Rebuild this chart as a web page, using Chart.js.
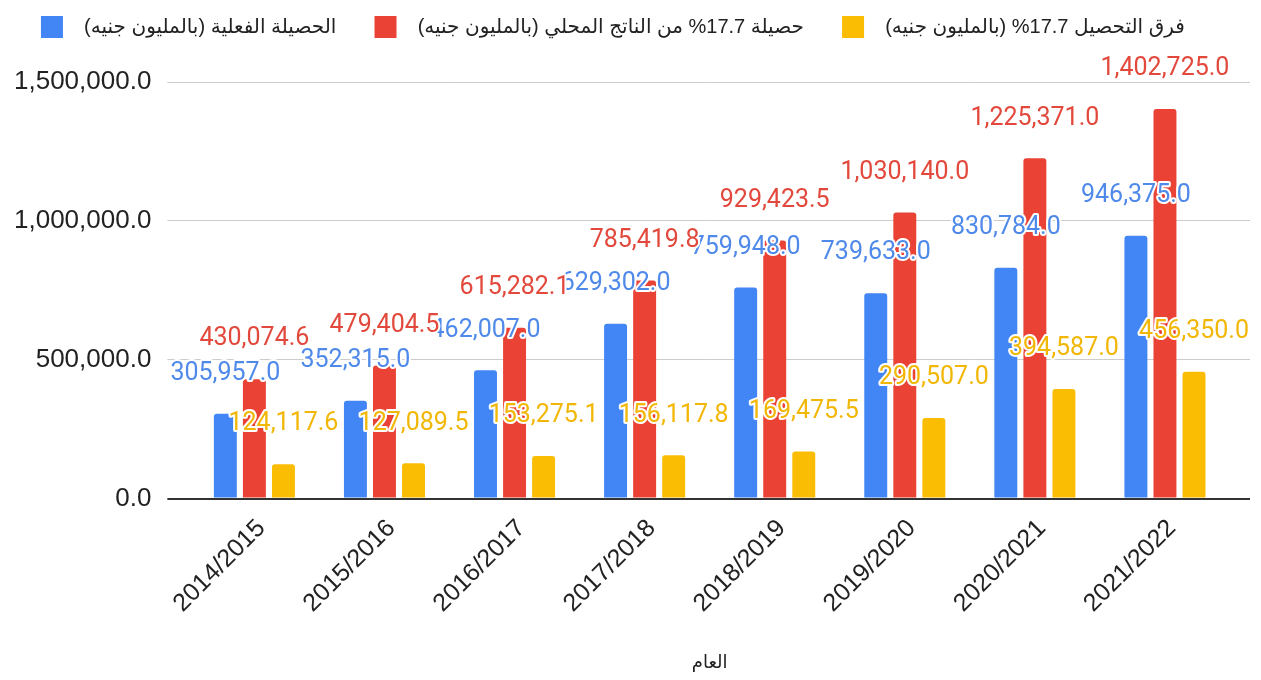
<!DOCTYPE html>
<html>
<head>
<meta charset="utf-8">
<script src="https://cdn.jsdelivr.net/npm/chart.js@4.4.1/dist/chart.umd.min.js"></script>
<style>
  body { margin: 0; background: #fff; }
  #wrap { width: 1261px; height: 680px; }
</style>
</head>
<body>
<div id="wrap"><canvas id="chart"></canvas></div>
<script>
const years = ['2014/2015', '2015/2016', '2016/2017', '2017/2018', '2018/2019', '2019/2020', '2020/2021', '2021/2022'];
const actual = [305957.0, 352315.0, 462007.0, 629302.0, 759948.0, 739633.0, 830784.0, 946375.0];
const gdpShare = [430074.6, 479404.5, 615282.1, 785419.8, 929423.5, 1030140.0, 1225371.0, 1402725.0];
const gap = [124117.6, 127089.5, 153275.1, 156117.8, 169475.5, 290507.0, 394587.0, 456350.0];
const seriesNames = [
    'الحصيلة الفعلية (بالمليون جنيه)',
    'حصيلة 17.7% من الناتج المحلي (بالمليون جنيه)',
    'فرق التحصيل 17.7% (بالمليون جنيه)'
];
const yTicks = [0, 500000, 1000000, 1500000];

const barColors = ['#4285F4', '#EA4335', '#FBBC04'];
const labelColors = ['#4f89e9', '#e2483b', '#f2b705'];

function fmt(v) {
    return v.toLocaleString('en-US', { minimumFractionDigits: 1, maximumFractionDigits: 1 });
}

// make room under the legend
const legendSpace = {
    id: 'legendSpace',
    beforeInit(chart) {
        const fit = chart.legend.fit;
        chart.legend.fit = function () {
            fit.bind(chart.legend)();
            this.height = 82;
        };
    }
};

// value labels above every bar
const barLabels = {
    id: 'barLabels',
    afterDatasetsDraw(chart) {
        const ctx = chart.ctx;
        ctx.save();
        ctx.font = '25px Roboto';
        ctx.textAlign = 'center';
        ctx.textBaseline = 'middle';
        ctx.lineJoin = 'round';
        chart.data.datasets.forEach((ds, i) => {
            const meta = chart.getDatasetMeta(i);
            meta.data.forEach((bar, j) => {
                const txt = fmt(ds.data[j]);
                const y = bar.y - 40;
                ctx.strokeStyle = '#fff';
                ctx.lineWidth = 4;
                ctx.strokeText(txt, bar.x, y);
                ctx.fillStyle = labelColors[i];
                ctx.fillText(txt, bar.x, y);
            });
        });
        ctx.restore();
    }
};

const gridColor = c => (c.tick && c.tick.value === 0 ? '#333' : '#cccccc');
const gridWidth = c => (c.tick && c.tick.value === 0 ? 2 : 1);

const ds = (label, data, i) => ({
    label: label,
    data: data,
    backgroundColor: barColors[i],
    borderRadius: { topLeft: 3, topRight: 3 },
    borderSkipped: 'start',
    categoryPercentage: 0.67,
    barPercentage: 0.79
});

new Chart(document.getElementById('chart'), {
    type: 'bar',
    data: {
        labels: years,
        datasets: [
            ds(seriesNames[0], actual, 0),
            ds(seriesNames[1], gdpShare, 1),
            ds(seriesNames[2], gap, 2)
        ]
    },
    options: {
        responsive: true,
        maintainAspectRatio: false,
        animation: false,
        layout: { padding: { left: -2, right: 11, top: 0, bottom: 0 } },
        plugins: {
            tooltip: { enabled: false },
            legend: {
                position: 'top',
                align: 'center',
                textDirection: 'rtl',
                labels: {
                    boxWidth: 22,
                    boxHeight: 22,
                    padding: 16,
                    color: '#222',
                    font: { family: '"Liberation Sans", "DejaVu Sans", sans-serif', size: 20 },
                    // spaces widen the gaps around each legend text
                    generateLabels(chart) {
                        const items = Chart.defaults.plugins.legend.labels.generateLabels(chart);
                        items.forEach(it => { it.text = '    ' + it.text + '  '; });
                        return items;
                    }
                }
            }
        },
        scales: {
            x: {
                grid: { display: false, drawTicks: false },
                border: { display: true, color: '#333', width: 2 },
                afterFit(scale) {
                    scale.paddingLeft = 0;
                    scale.paddingRight = 0;
                },
                ticks: {
                    color: '#222',
                    font: { family: '"Liberation Sans", Arial, sans-serif', size: 25 },
                    maxRotation: 45,
                    minRotation: 45,
                    autoSkip: false,
                    padding: 15,
                    labelOffset: 7
                },
                title: {
                    display: true,
                    text: 'العام',
                    color: '#222',
                    font: { family: '"Liberation Sans", "DejaVu Sans", sans-serif', size: 18 },
                    padding: { top: 19, bottom: 6 }
                }
            },
            y: {
                min: 0,
                max: 1500000,
                afterBuildTicks(scale) {
                    scale.ticks = yTicks.map(v => ({ value: v }));
                },
                border: { display: false },
                grid: {
                    color: gridColor,
                    tickColor: gridColor,
                    lineWidth: gridWidth,
                    tickLength: 22
                },
                ticks: {
                    color: '#222',
                    padding: 16,
                    font: { family: '"Liberation Sans", Arial, sans-serif', size: 26 },
                    callback: v => fmt(v)
                }
            },
            y2: {
                position: 'right',
                min: 0,
                max: 1500000,
                afterBuildTicks(scale) {
                    scale.ticks = yTicks.map(v => ({ value: v }));
                },
                border: { display: false },
                grid: {
                    drawOnChartArea: false,
                    color: gridColor,
                    tickColor: gridColor,
                    lineWidth: gridWidth,
                    tickLength: 20
                },
                ticks: { display: false }
            }
        }
    },
    plugins: [legendSpace, barLabels]
});
</script>
</body>
</html>
